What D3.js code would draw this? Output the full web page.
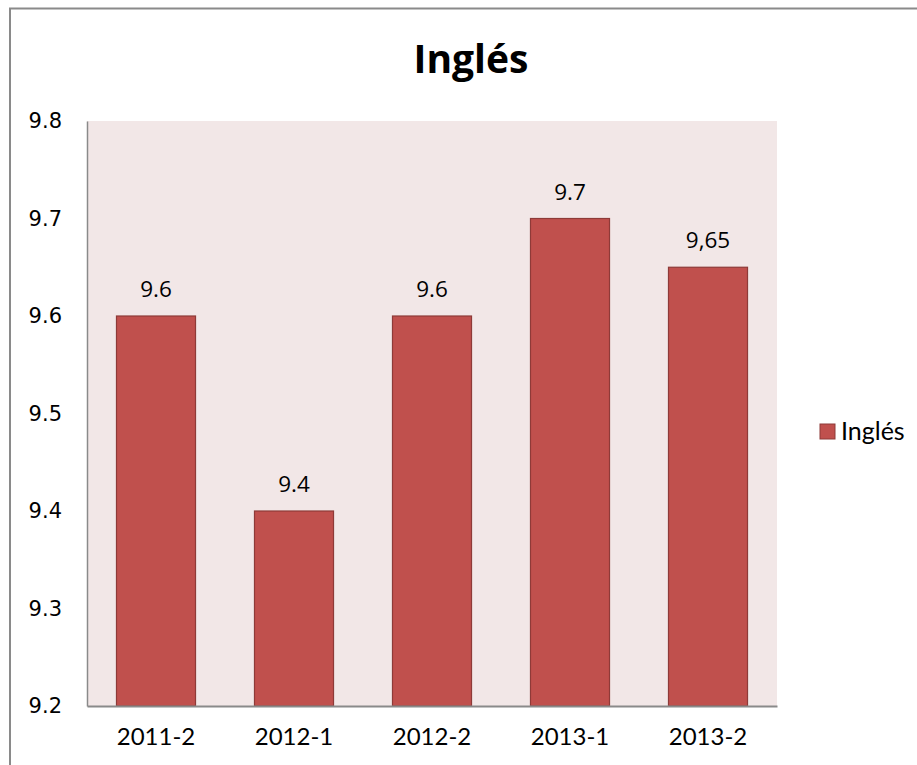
<!DOCTYPE html>
<html><head><meta charset="utf-8">
<script src="https://cdn.jsdelivr.net/npm/d3@7"></script>
<style>html,body{margin:0;padding:0;background:#fff;}</style>
</head><body>
<svg id="chart" width="917" height="765"></svg>
<script>
const title = "Inglés";
const seriesName = "Inglés";
const categories = ["2011-2", "2012-1", "2012-2", "2013-1", "2013-2"];
const values = [9.6, 9.4, 9.6, 9.7, 9.65];
const valueLabels = ["9.6", "9.4", "9.6", "9.7", "9,65"];
const yTicks = [9.2, 9.3, 9.4, 9.5, 9.6, 9.7, 9.8];
const yTickLabels = ["9.2", "9.3", "9.4", "9.5", "9.6", "9.7", "9.8"];

const svg = d3.select("#chart");
const plot = {left: 87, right: 777, top: 121, bottom: 706};

// outer chart border (extends beyond the visible frame)
svg.append("rect").attr("x", 10).attr("y", 8.5).attr("width", 1000).attr("height", 1000)
  .attr("fill", "#fff").attr("stroke", "#8a8a8a").attr("stroke-width", 2);

const x = d3.scaleBand().domain(categories).range([plot.left, plot.right]).paddingInner(0.42).paddingOuter(0.21);
const y = d3.scaleLinear().domain([9.2, 9.8]).range([plot.bottom, plot.top]);

// plot background
svg.append("rect").attr("x", plot.left).attr("y", plot.top)
  .attr("width", plot.right - plot.left).attr("height", plot.bottom - plot.top)
  .attr("fill", "#F2E7E7");

// title
svg.append("text").attr("x", 471).attr("y", 73).attr("text-anchor", "middle")
  .attr("font-family", "'Open Sans', sans-serif").attr("font-weight", "bold")
  .attr("font-size", 39).attr("fill", "#000").text(title);

// bars
svg.append("g").selectAll("rect").data(values).join("rect")
  .attr("x", (d, i) => x(categories[i]) + 0.5)
  .attr("y", d => y(d))
  .attr("width", x.bandwidth() - 1)
  .attr("height", d => y(9.2) - y(d))
  .attr("fill", "#C0504D").attr("stroke", "#8E3A38").attr("stroke-width", 1.2);

// data labels
svg.append("g").selectAll("text").data(values).join("text")
  .attr("x", (d, i) => x(categories[i]) + x.bandwidth() / 2)
  .attr("y", d => y(d) - 19)
  .attr("text-anchor", "middle")
  .attr("font-family", "'Open Sans', sans-serif").attr("font-size", 22.5).attr("fill", "#000")
  .text((d, i) => valueLabels[i]);

// y axis
const yAxis = d3.axisLeft(y).tickValues(yTicks).tickSize(0).tickPadding(25)
  .tickFormat((d, i) => yTickLabels[i]);
const gy = svg.append("g").attr("transform", `translate(${plot.left},0)`).call(yAxis);
gy.select(".domain").attr("stroke", "#8a8a8a").attr("stroke-width", 1.5);
gy.selectAll("text").attr("font-family", "'DejaVu Sans', sans-serif").attr("font-size", 21).attr("fill", "#000");

// x axis
const xAxis = d3.axisBottom(x).tickSize(0).tickPadding(22);
const gx = svg.append("g").attr("transform", `translate(0,${plot.bottom})`).call(xAxis);
gx.select(".domain").attr("stroke", "#8a8a8a").attr("stroke-width", 2);
gx.selectAll("text").attr("font-family", "Lato, sans-serif").attr("font-size", 24).attr("fill", "#000");

// legend
const lg = svg.append("g");
lg.append("rect").attr("x", 820).attr("y", 424).attr("width", 15).attr("height", 15)
  .attr("fill", "#C0504D").attr("stroke", "#8E3A38").attr("stroke-width", 1);
lg.append("text").attr("x", 841).attr("y", 439.5)
  .attr("font-family", "Lato, sans-serif").attr("font-size", 25).attr("fill", "#000").text(seriesName);
</script>
</body></html>
